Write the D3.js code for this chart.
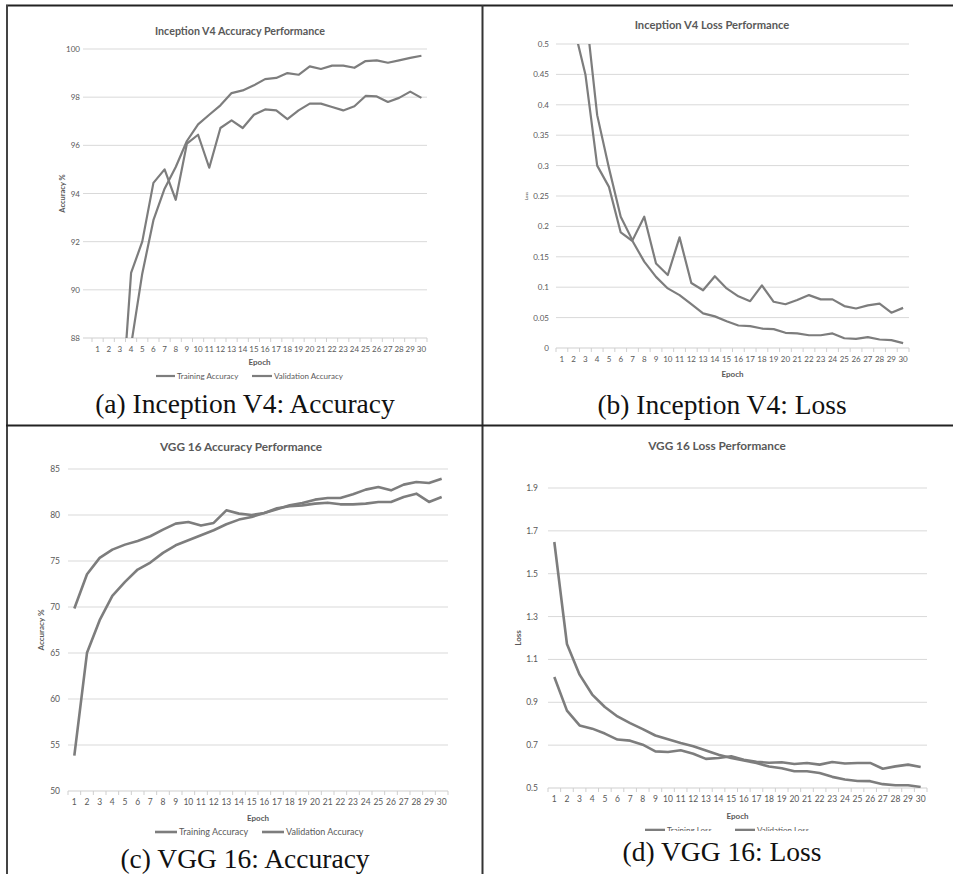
<!DOCTYPE html>
<html>
<head>
<meta charset="utf-8">
<script src="https://cdn.jsdelivr.net/npm/d3@7"></script>
<style>
  body { margin: 0; background: #fff; }
  svg { display: block; }
</style>
</head>
<body>
<div id="chart"></div>
<script>
// data
const epochs = [1, 2, 3, 4, 5, 6, 7, 8, 9, 10, 11, 12, 13, 14, 15, 16, 17, 18, 19, 20, 21, 22, 23, 24, 25, 26, 27, 28, 29, 30]

const incAccTrain = [70.0, 78.0, 83.5, 87.7, 90.67, 92.89, 94.2, 95.1, 96.18, 96.87, 97.27, 97.66, 98.17, 98.28, 98.49, 98.75, 98.8, 99.0, 98.93, 99.28, 99.17, 99.31, 99.31, 99.22, 99.5, 99.53, 99.43, 99.53, 99.63, 99.72]
const incAccVal = [72.0, 79.0, 84.1, 90.7, 92.0, 94.44, 95.0, 93.74, 96.07, 96.44, 95.07, 96.72, 97.04, 96.72, 97.27, 97.49, 97.45, 97.09, 97.45, 97.73, 97.73, 97.59, 97.45, 97.62, 98.05, 98.03, 97.8, 97.97, 98.23, 97.97]

const incLossTrain = [0.85, 0.53, 0.45, 0.30, 0.265, 0.19, 0.176, 0.142, 0.117, 0.098, 0.087, 0.072, 0.057, 0.052, 0.044, 0.037, 0.036, 0.032, 0.031, 0.025, 0.024, 0.021, 0.021, 0.024, 0.016, 0.015, 0.018, 0.014, 0.013, 0.008]
const incLossVal = [1.1, 0.75, 0.56, 0.383, 0.296, 0.216, 0.177, 0.216, 0.139, 0.12, 0.182, 0.107, 0.095, 0.118, 0.098, 0.085, 0.077, 0.103, 0.076, 0.072, 0.079, 0.087, 0.08, 0.08, 0.069, 0.065, 0.07, 0.073, 0.058, 0.066]

const vggAccTrain = [53.84, 65.02, 68.57, 71.21, 72.73, 74.07, 74.83, 75.88, 76.71, 77.25, 77.8, 78.34, 78.99, 79.5, 79.79, 80.22, 80.62, 81.05, 81.31, 81.67, 81.85, 81.85, 82.25, 82.76, 83.05, 82.68, 83.3, 83.59, 83.48, 83.95]
const vggAccVal = [69.83, 73.56, 75.34, 76.24, 76.78, 77.18, 77.69, 78.41, 79.06, 79.24, 78.85, 79.14, 80.51, 80.15, 80.0, 80.22, 80.73, 80.95, 81.05, 81.24, 81.34, 81.16, 81.16, 81.24, 81.42, 81.42, 81.96, 82.32, 81.42, 81.96]

const vggLossTrain = [1.648, 1.172, 1.029, 0.936, 0.878, 0.834, 0.803, 0.775, 0.745, 0.727, 0.71, 0.695, 0.675, 0.655, 0.64, 0.628, 0.617, 0.60, 0.592, 0.578, 0.578, 0.57, 0.552, 0.54, 0.533, 0.532, 0.518, 0.513, 0.513, 0.505]
const vggLossVal = [1.018, 0.861, 0.792, 0.777, 0.754, 0.726, 0.721, 0.702, 0.671, 0.668, 0.676, 0.66, 0.636, 0.64, 0.648, 0.632, 0.622, 0.618, 0.62, 0.612, 0.617, 0.609, 0.621, 0.614, 0.617, 0.617, 0.59, 0.601, 0.609, 0.598]

// y tick labels per panel
const incAccTicks = [88, 90, 92, 94, 96, 98, 100]
const incLossTicks = [0, 0.05, 0.1, 0.15, 0.2, 0.25, 0.3, 0.35, 0.4, 0.45, 0.5]
const vggAccTicks = [50, 55, 60, 65, 70, 75, 80, 85]
const vggLossTicks = [0.5, 0.7, 0.9, 1.1, 1.3, 1.5, 1.7, 1.9]

const W = 953, H = 874
const lineColor = "#7d7d7d"
const gridColor = "#d9d9d9"
const textColor = "#595959"
const chartFont = "Lato, 'Open Sans', sans-serif"

const svg = d3.select("#chart").append("svg")
    .attr("width", W)
    .attr("height", H)

svg.append("rect").attr("width", W).attr("height", H).attr("fill", "#fff")

const panels = [
  { id: "a", title: "Inception V4 Accuracy Performance", titleX: 240, titleY: 35, titleSize: 10.7,
    x0: 92, x1: 427, gridX0: 83, y0: 338, y1: 49, domain: [88, 100], ticks: incAccTicks,
    fmt: d => d, tickEnd: 80, tickSize: 8, series: [incAccTrain, incAccVal], lw: 2.2,
    ylabel: "Accuracy %", ylabX: 62, ylabSize: 7.5,
    labY: 351, epochY: 365, legend: { y: 379, size: 8, items: [["Training Accuracy", 156, 175], ["Validation Accuracy", 252, 272]] },
    caption: "(a) Inception V4: Accuracy", capX: 245, capY: 413 },
  { id: "b", title: "Inception V4 Loss Performance", titleX: 712, titleY: 29, titleSize: 11.2,
    x0: 556, x1: 909, gridX0: 556, y0: 348, y1: 44, domain: [0, 0.5], ticks: incLossTicks,
    fmt: d => d, tickEnd: 549, tickSize: 8, series: [incLossTrain, incLossVal], lw: 2.2,
    ylabel: "Loss", ylabX: 527, ylabSize: 4,
    labY: 363, epochY: 377, legend: null,
    caption: "(b) Inception V4: Loss", capX: 722, capY: 414 },
  { id: "c", title: "VGG 16 Accuracy Performance", titleX: 241, titleY: 451, titleSize: 11.8,
    x0: 68, x1: 448, gridX0: 68, y0: 791, y1: 469, domain: [50, 85], ticks: vggAccTicks,
    fmt: d => d, tickEnd: 60, tickSize: 8.5, series: [vggAccTrain, vggAccVal], lw: 2.6,
    ylabel: "Accuracy %", ylabX: 41, ylabSize: 8,
    labY: 806, epochY: 821, legend: { y: 835, size: 9, items: [["Training Accuracy", 155, 177], ["Validation Accuracy", 262, 284]] },
    caption: "(c) VGG 16: Accuracy", capX: 245, capY: 868 },
  { id: "d", title: "VGG 16 Loss Performance", titleX: 717, titleY: 450, titleSize: 11.8,
    x0: 548, x1: 927, gridX0: 548, y0: 788, y1: 488, domain: [0.5, 1.9], ticks: vggLossTicks,
    fmt: d => d3.format(".1f")(d), tickEnd: 538, tickSize: 8.5, series: [vggLossTrain, vggLossVal], lw: 2.6,
    ylabel: "Loss", ylabX: 518, ylabSize: 8,
    labY: 803, epochY: 819, legend: { y: 833, size: 8, clip: 831, items: [["Training Loss", 645, 665], ["Validation Loss", 735, 755]] },
    caption: "(d) VGG 16: Loss", capX: 722, capY: 861 }
]

panels.forEach(p => {
  const g = svg.append("g").attr("class", "panel-" + p.id)

  const x = d3.scaleBand()
      .domain(epochs)
      .range([p.x0, p.x1])
      .padding(0)
  const y = d3.scaleLinear()
      .domain(p.domain)
      .range([p.y0, p.y1])
  const cx = d => x(d) + x.bandwidth() / 2

  // horizontal gridlines
  g.selectAll("line.grid")
    .data(p.ticks.slice(1))
    .enter()
    .append("line")
    .attr("class", "grid")
    .attr("x1", p.gridX0)
    .attr("x2", p.x1)
    .attr("y1", d => y(d))
    .attr("y2", d => y(d))
    .style("stroke", gridColor)
    .style("stroke-width", 1)

  // y tick labels
  g.selectAll("text.ytick")
    .data(p.ticks)
    .enter()
    .append("text")
    .attr("class", "ytick")
    .attr("x", p.tickEnd)
    .attr("y", d => y(d) + 3)
    .text(p.fmt)
    .style("text-anchor", "end")
    .style("font-family", chartFont)
    .style("font-size", p.tickSize + "px")
    .style("fill", textColor)

  // x axis with excel-like boundary ticks
  const xAxis = d3.axisBottom(x)
      .tickSize(0)
      .tickPadding(8)
  g.append("g")
    .attr("class", "x-axis")
    .attr("transform", "translate(0," + y(p.domain[0]) + ")")
    .call(xAxis)
    .call(a => a.select(".domain").remove())
    .call(a => a.selectAll("text")
        .style("font-family", chartFont)
        .style("font-size", p.tickSize + "px")
        .style("fill", textColor))

  g.append("line")
    .attr("x1", p.gridX0)
    .attr("x2", p.x1)
    .attr("y1", y(p.domain[0]))
    .attr("y2", y(p.domain[0]))
    .style("stroke", "#cfcfcf")
    .style("stroke-width", 1)

  g.selectAll("line.xtick")
    .data(epochs.concat([null]))
    .enter()
    .append("line")
    .attr("class", "xtick")
    .attr("x1", d => d === null ? p.x1 : x(d))
    .attr("x2", d => d === null ? p.x1 : x(d))
    .attr("y1", y(p.domain[0]))
    .attr("y2", y(p.domain[0]) + 4)
    .style("stroke", "#cfcfcf")
    .style("stroke-width", 1)

  // clip lines to the plot like excel does
  g.append("clipPath")
    .attr("id", "clip-" + p.id)
    .append("rect")
    .attr("x", p.x0 - 20)
    .attr("y", y(p.domain[1]))
    .attr("width", p.x1 - p.x0 + 40)
    .attr("height", y(p.domain[0]) - y(p.domain[1]))

  const line = d3.line()
      .x((d, i) => cx(epochs[i]))
      .y(d => y(d))

  g.append("g")
    .attr("clip-path", "url(#clip-" + p.id + ")")
    .selectAll("path.series")
    .data(p.series)
    .enter()
    .append("path")
    .attr("class", "series")
    .attr("d", line)
    .style("fill", "none")
    .style("stroke", lineColor)
    .style("stroke-width", p.lw)
    .style("stroke-linejoin", "round")

  // chart title
  g.append("text")
    .text(p.title)
    .attr("x", p.titleX)
    .attr("y", p.titleY)
    .style("text-anchor", "middle")
    .style("font-family", chartFont)
    .style("font-size", p.titleSize + "px")
    .style("font-weight", "bold")
    .style("fill", textColor)

  // y axis label
  g.append("text")
    .text(p.ylabel)
    .attr("transform", "translate(" + p.ylabX + "," + ((p.y0 + p.y1) / 2) + ") rotate(-90)")
    .attr("dy", "0.35em")
    .style("text-anchor", "middle")
    .style("font-family", chartFont)
    .style("font-size", p.ylabSize + "px")
    .style("font-weight", "bold")
    .style("fill", textColor)

  // x axis label
  g.append("text")
    .text("Epoch")
    .attr("x", (p.x0 + p.x1) / 2)
    .attr("y", p.epochY)
    .style("text-anchor", "middle")
    .style("font-family", chartFont)
    .style("font-size", "8px")
    .style("font-weight", "bold")
    .style("fill", textColor)

  // legend
  if (p.legend) {
    const lg = g.append("g")
    if (p.legend.clip) {
      g.append("clipPath")
        .attr("id", "lclip-" + p.id)
        .append("rect")
        .attr("x", p.x0).attr("y", p.legend.y - 20)
        .attr("width", p.x1 - p.x0).attr("height", p.legend.clip - p.legend.y + 20)
      lg.attr("clip-path", "url(#lclip-" + p.id + ")")
    }
    p.legend.items.forEach(([name, lx0, lx1]) => {
      lg.append("line")
        .attr("x1", lx0).attr("x2", lx1)
        .attr("y1", p.legend.y - 3).attr("y2", p.legend.y - 3)
        .style("stroke", lineColor)
        .style("stroke-width", p.lw)
      lg.append("text")
        .text(name)
        .attr("x", lx1 + 2)
        .attr("y", p.legend.y)
        .style("font-family", chartFont)
        .style("font-size", p.legend.size + "px")
        .style("fill", textColor)
    })
  }

  // caption under each panel
  g.append("text")
    .text(p.caption)
    .attr("x", p.capX)
    .attr("y", p.capY)
    .style("text-anchor", "middle")
    .style("font-family", "'Liberation Serif', serif")
    .style("font-size", "27.5px")
    .style("fill", "#111")
})

// table borders
const borders = [
  [6, 5.5, W, 5.5, "#222"],
  [7, 5, 7, H, "#444"],
  [482.5, 5, 482.5, H, "#333"],
  [6, 425.5, W, 425.5, "#222"]
]
svg.selectAll("line.border")
  .data(borders)
  .enter()
  .append("line")
  .attr("class", "border")
  .attr("x1", d => d[0]).attr("y1", d => d[1])
  .attr("x2", d => d[2]).attr("y2", d => d[3])
  .style("stroke", d => d[4])
  .style("stroke-width", 2)
</script>
</body>
</html>
